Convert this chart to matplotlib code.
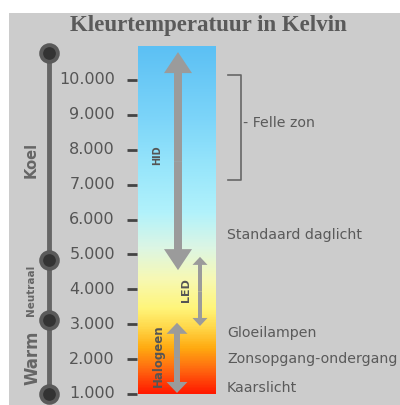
import matplotlib
matplotlib.use("Agg")
import matplotlib.pyplot as plt
from matplotlib.colors import LinearSegmentedColormap
from matplotlib.patches import Rectangle, FancyArrow
import numpy as np

# ---- data ----
title = "Kleurtemperatuur in Kelvin"
tick_values = [1000, 2000, 3000, 4000, 5000, 6000, 7000, 8000, 9000, 10000]
tick_labels = ["1.000", "2.000", "3.000", "4.000", "5.000", "6.000", "7.000", "8.000", "9.000", "10.000"]
bar_range = [1000, 10950]

zone_bounds = [10780, 4840, 3130, 1000]          # circles on the left line
zone_names = ["Koel", "Neutraal", "Warm"]
zone_label_y = [7700, 3980, 2050]

lamp_names = ["HID", "LED", "Halogeen"]
lamp_low = [4550, 2950, 1030]
lamp_high = [10800, 4930, 3040]
lamp_label_y = [7850, 3990, 2090]

felle_zon = [7130, 10140]
felle_label_y = 8770

source_names = ["Standaard daglicht", "Gloeilampen", "Zonsopgang-ondergang", "Kaarslicht"]
source_values = [5560, 2750, 2000, 1170]

# ---- figure ----
W, H = 400, 405
fig = plt.figure(figsize=(W / 100, H / 100), dpi=100, facecolor="white")
fig.patches.append(Rectangle((9 / W, 0), 1 - 9 / W, (H - 13) / H, transform=fig.transFigure,
                             facecolor="#cccccc", edgecolor="none", zorder=-10))
ax = fig.add_axes([0, 0, 1, 1])
ax.set_axis_off()
ax.patch.set_alpha(0)
px = 9000 / 314.0  # Kelvin per pixel
ax.set_xlim(0, W)
ax.set_ylim(1000 - 11 * px, 10000 + 80 * px)

# gradient bar
cmap = LinearSegmentedColormap.from_list("kelvin", [
    (0.0, "#ff1a00"), (0.07, "#ff6a10"), (0.13, "#ffaa10"), (0.19, "#ffd84a"),
    (0.245, "#fff57a"), (0.33, "#f7f9b4"), (0.42, "#dcf6e4"), (0.52, "#b2f2fb"),
    (0.65, "#98e6fb"), (0.8, "#7bd4f9"), (1.0, "#5cc0f4")])
grad = np.linspace(0, 1, 400).reshape(-1, 1)
ax.imshow(grad, cmap=cmap, origin="lower", aspect="auto",
          extent=[138, 216, bar_range[0], bar_range[1]], zorder=1)

# ticks and labels
for v, lab in zip(tick_values, tick_labels):
    ax.plot([127, 137], [v, v], color="#444444", lw=2, solid_capstyle="butt", zorder=2)
    ax.text(115, v, lab, ha="right", va="center", fontsize=11.5, color="#555555",
            family="DejaVu Sans")

# left zone line
ax.plot([49, 49], [zone_bounds[-1], zone_bounds[0]], color="#666666", lw=3.5, zorder=2)
ax.plot([49] * len(zone_bounds), zone_bounds, "o", ms=12, mfc="#333333", mec="#5a5a5a",
        mew=2.8, zorder=3)
zone_sizes = [10.5, 7.5, 12]
zone_x = [31, 31, 32]
for name, y, s, x in zip(zone_names, zone_label_y, zone_sizes, zone_x):
    ax.text(x, y, name, rotation=90, ha="center", va="center", fontsize=s,
            color="#666666", fontweight="bold", family="DejaVu Sans")

# lamp arrows
arrow_x = [178, 200, 177]
shaft_w = [8, 4, 6]
head_w = [28, 15, 21]
head_l = [21, 8, 11]
label_x = [157, 186, 158]
label_sz = [7, 8, 8.5]
for name, lo, hi, x, sw, hw, hl, lx, ls, ly in zip(lamp_names, lamp_low, lamp_high, arrow_x,
                                                   shaft_w, head_w, head_l, label_x, label_sz,
                                                   lamp_label_y):
    mid = (lo + hi) / 2
    for end in (lo, hi):
        ax.add_patch(FancyArrow(x, mid, 0, end - mid, width=sw, head_width=hw,
                                head_length=hl * px, length_includes_head=True,
                                facecolor="#9b9b9b", edgecolor="none", zorder=4))
    ax.text(lx, ly, name, rotation=90, ha="center", va="center", fontsize=ls,
            color="#555555", fontweight="bold", family="DejaVu Sans", zorder=5)

# felle zon bracket
ax.plot([228, 241, 241, 228], [felle_zon[1], felle_zon[1], felle_zon[0], felle_zon[0]],
        color="#666666", lw=1.2, zorder=2)
ax.text(243, felle_label_y, "- Felle zon", ha="left", va="center", fontsize=10.2,
        color="#5a5a5a", family="DejaVu Sans")

# light sources
for name, v in zip(source_names, source_values):
    ax.text(227, v, name, ha="left", va="center", fontsize=10.2, color="#5a5a5a",
            family="DejaVu Sans")

# title
fig.text(208 / W, 1 - 25 / H, title, ha="center", va="center", fontsize=16.5,
         fontweight="bold", color="#5a5a5a", family="Liberation Serif")

fig.savefig("out.png", dpi=100, facecolor="white")
